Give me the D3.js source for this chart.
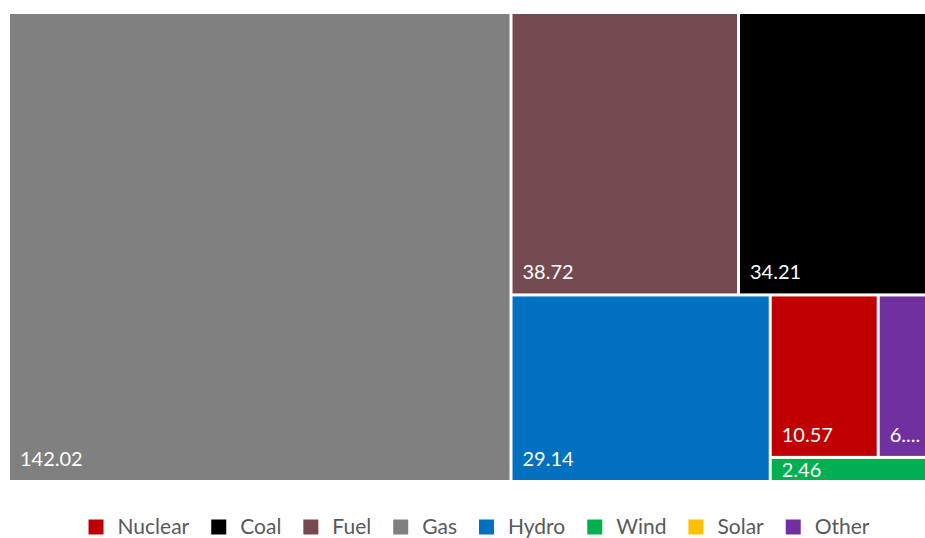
<!DOCTYPE html>
<html>
<head>
<meta charset="utf-8">
<script src="https://cdn.jsdelivr.net/npm/d3@7"></script>
<style>
  html, body { margin: 0; padding: 0; background: #ffffff; }
  svg { display: block; }
</style>
</head>
<body>
<svg id="chart" width="925" height="538"></svg>
<script>
// Electricity generation by source
const sources = ["Nuclear", "Coal", "Fuel", "Gas", "Hydro", "Wind", "Solar", "Other"];
const generation = [10.57, 34.21, 38.72, 142.02, 29.14, 2.46, 0, 6.0];
const sourceColors = ["#C00000", "#000000", "#744A50", "#808080", "#0070C0", "#00B050", "#FFC000", "#7030A0"];

const W = 925, H = 538;
const plot = { left: 10, top: 14, width: 928, height: 466 };
const labelFont = "Lato, 'Open Sans', sans-serif";

const svg = d3.select("#chart");

const color = d3.scaleOrdinal().domain(sources).range(sourceColors);

const root = d3.hierarchy({
    name: "root",
    children: sources.map((s, i) => ({ name: s, value: generation[i] }))
  })
  .sum(d => d.value || 0)
  .sort((a, b) => b.value - a.value);

d3.treemap()
  .tile(d3.treemapSquarify)
  .size([plot.width, plot.height])
  .paddingInner(3)(root);

const g = svg.append("g").attr("transform", `translate(${plot.left},${plot.top})`);

const leaves = root.leaves().filter(d => d.value > 0);

const cell = g.selectAll("g.cell")
  .data(leaves)
  .join("g")
  .attr("class", "cell");

cell.append("clipPath")
  .attr("id", (d, i) => "clip-" + i)
  .append("rect")
  .attr("x", d => d.x0)
  .attr("y", d => d.y0)
  .attr("width", d => Math.max(0, d.x1 - d.x0))
  .attr("height", d => Math.max(0, d.y1 - d.y0));

cell.append("rect")
  .attr("x", d => d.x0)
  .attr("y", d => d.y0)
  .attr("width", d => Math.max(0, d.x1 - d.x0))
  .attr("height", d => Math.max(0, d.y1 - d.y0))
  .attr("fill", d => color(d.data.name));

// Value labels sit at the lower left of each tile, shortened with "..." when too wide
const padX = 10, padBottom = 14, padTop = 4, digitHeight = 14.6;
cell.append("text")
  .attr("clip-path", (d, i) => `url(#clip-${i})`)
  .attr("x", d => d.x0 + padX)
  .attr("y", d => Math.max(d.y1 - padBottom, d.y0 + padTop + digitHeight))
  .attr("fill", "#ffffff")
  .style("font-family", labelFont)
  .style("font-size", "20px")
  .each(function (d) {
    const t = d3.select(this);
    const full = d.value.toFixed(2);
    const maxW = (d.x1 - d.x0) - 2 * padX;
    t.text(full);
    if (this.getComputedTextLength() <= maxW) return;
    let s = full;
    while (s.length > 1) {
      s = s.slice(0, -1);
      t.text(s + "...");
      if (this.getComputedTextLength() <= maxW) return;
    }
  });

// Legend
const legend = svg.append("g").attr("class", "legend");
const sw = 15, gapText = 14, gapItem = 22, legendY = 527, legendCenter = 479;
const items = legend.selectAll("g.item")
  .data(sources)
  .join("g")
  .attr("class", "item");

items.append("rect")
  .attr("width", sw)
  .attr("height", sw)
  .attr("y", legendY - sw / 2)
  .attr("fill", d => color(d));

items.append("text")
  .attr("x", sw + gapText)
  .attr("y", legendY)
  .attr("dy", "0.35em")
  .attr("fill", "#595959")
  .style("font-family", labelFont)
  .style("font-size", "21px")
  .text(d => d);

let cursor = 0;
const offsets = [];
items.each(function () {
  const tw = d3.select(this).select("text").node().getComputedTextLength();
  offsets.push(cursor);
  cursor += sw + gapText + tw + gapItem;
});
const totalW = cursor - gapItem;
const startX = legendCenter - totalW / 2;
items.attr("transform", (d, i) => `translate(${startX + offsets[i]},0)`);
</script>
</body>
</html>
